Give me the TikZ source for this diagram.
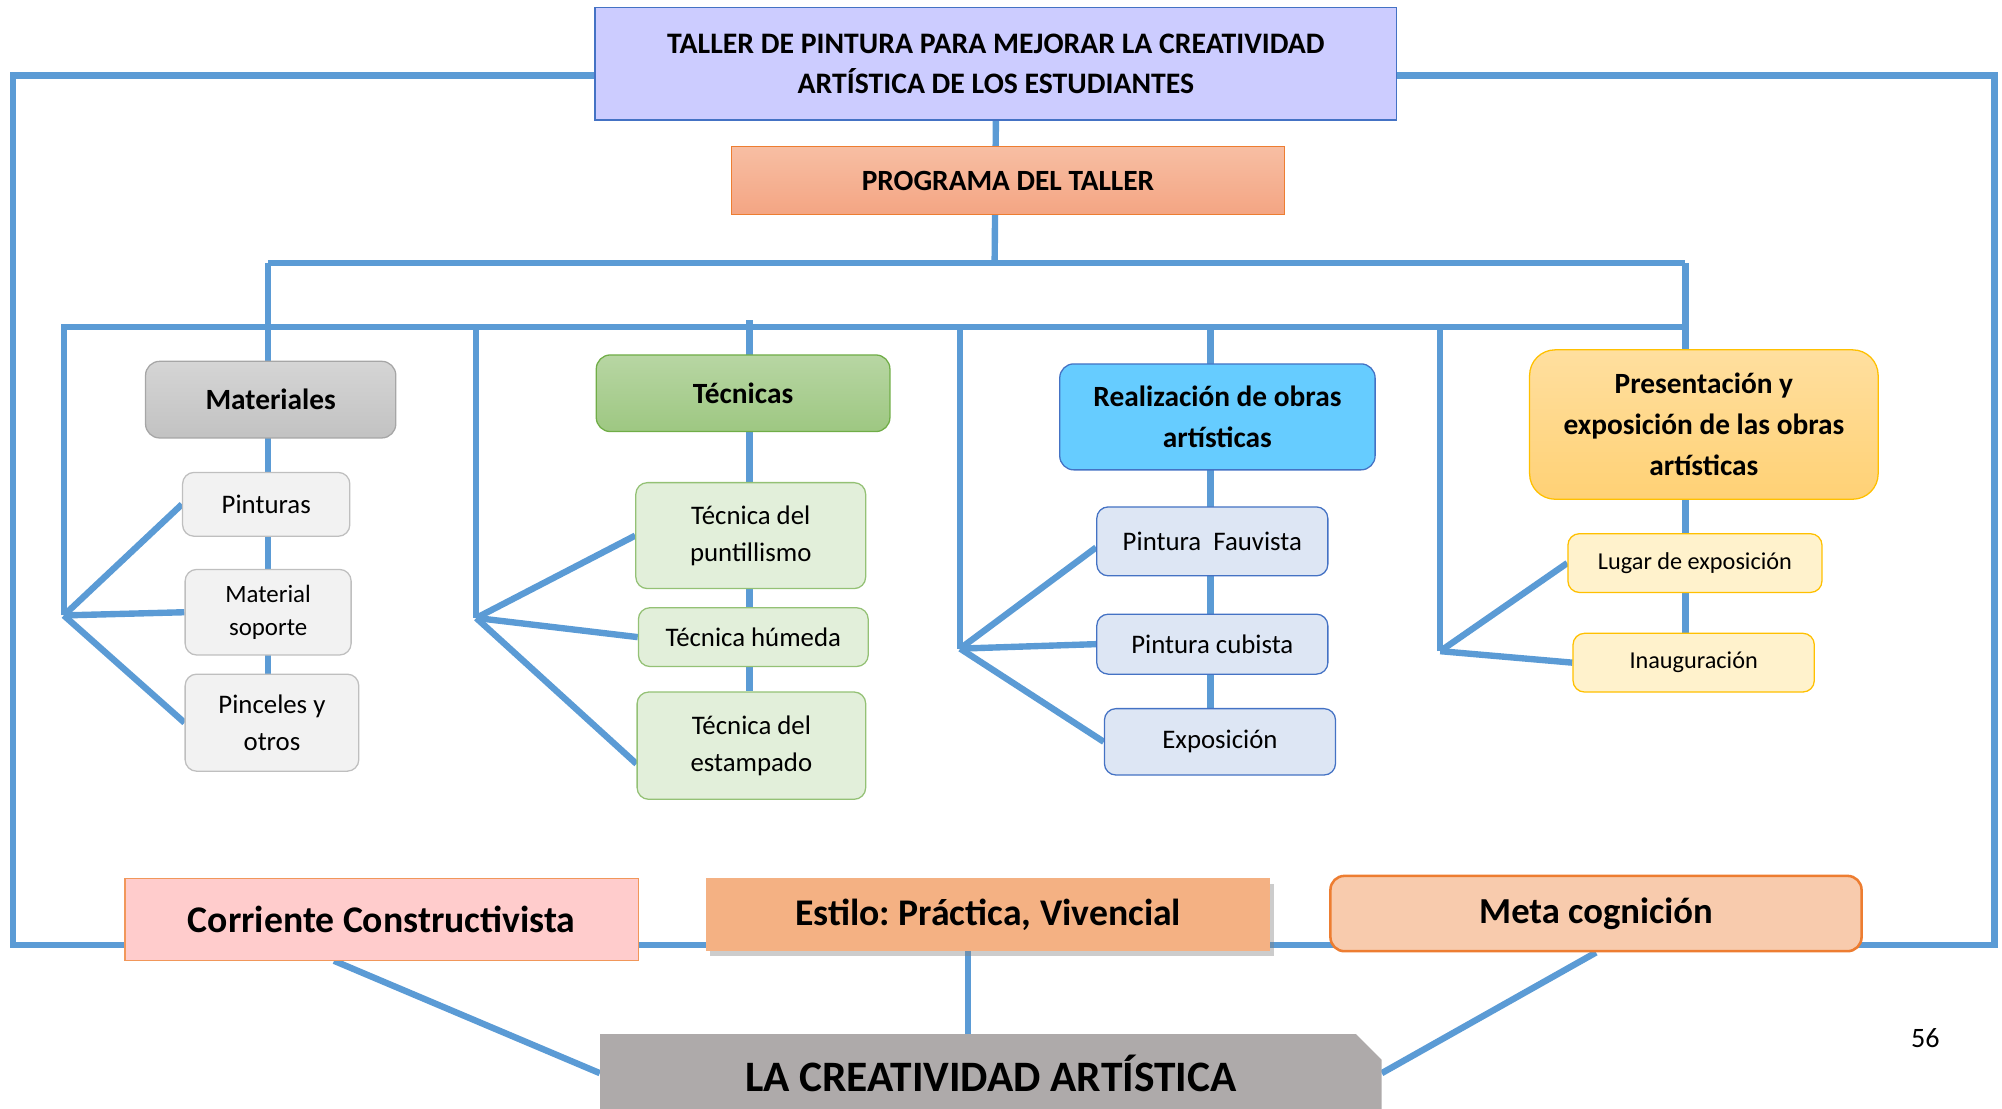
\documentclass[tikz,border=0pt]{standalone}
\usepackage{fontspec}
\setmainfont{Carlito}
\usetikzlibrary{backgrounds,shadows,shapes.misc}
\definecolor{linea}{HTML}{5B9BD5}
\definecolor{azulborde}{HTML}{4472C4}
\definecolor{lavanda}{HTML}{CCCCFF}
\definecolor{naranja}{HTML}{ED7D31}
\definecolor{verde}{HTML}{70AD47}
\definecolor{dorado}{HTML}{FFC000}
\definecolor{celeste}{HTML}{66CCFF}
\definecolor{salmonA}{HTML}{F7BEA3}
\definecolor{salmonB}{HTML}{F4A583}
\definecolor{amarilloA}{HTML}{FFDF9F}
\definecolor{amarilloB}{HTML}{FFD175}
\definecolor{grisbase}{HTML}{AEAAAA}
\frenchspacing
\begin{document}
\begin{tikzpicture}[x=1pt,y=-1pt]
					\tikzstyle{conn}=[draw=linea,line width=5pt]
					\tikzstyle{cat}=[rounded corners=11pt,align=center,inner sep=2pt,line width=1pt,font=\fontsize{23}{32}\selectfont\bfseries]
					\tikzstyle{item}=[rounded corners=9pt,align=center,inner sep=2pt,line width=1pt,font=\fontsize{21}{29}\selectfont]
					\tikzstyle{base}=[align=center,inner sep=2pt,font=\fontsize{29.5}{34}\selectfont\bfseries]
					\useasboundingbox (0,0) rectangle (1568,868);
					\node[draw=azulborde,fill=lavanda,line width=1pt,align=center,minimum width=628pt,minimum height=88pt,font=\fontsize{23.3}{32}\selectfont\bfseries] (1) at (780,50) {TALLER DE PINTURA PARA MEJORAR LA CREATIVIDAD\\ARTÍSTICA DE LOS ESTUDIANTES};
					\node[draw=naranja,top color=salmonA,bottom color=salmonB,line width=1pt,minimum width=433pt,minimum height=53pt,font=\fontsize{23}{28}\selectfont\bfseries] (2) at (789.5,141.5) {PROGRAMA DEL TALLER};
					\node[cat,draw=gray!70,top color=gray!33,bottom color=gray!48,minimum width=196pt,minimum height=60pt] (3) at (212,313) {Materiales};
					\node[item,draw=gray!50,fill=gray!10,minimum width=131pt,minimum height=50pt] (4) at (208.5,395) {Pinturas};
					\node[item,draw=gray!50,fill=gray!10,minimum width=130pt,minimum height=67pt,font=\fontsize{19.5}{26}\selectfont] (5) at (210,479.5) {Material\\soporte};
					\node[item,draw=gray!50,fill=gray!10,minimum width=136pt,minimum height=76pt] (6) at (213,566) {Pinceles y\\otros};
					\node[cat,draw=verde,top color=verde!50!white,bottom color=verde!68!white,minimum width=230pt,minimum height=60pt] (7) at (582,308) {Técnicas};
					\node[item,draw=verde!75,fill=verde!20,minimum width=180pt,minimum height=83pt] (8) at (588,419.5) {Técnica del\\puntillismo};
					\node[item,draw=verde!75,fill=verde!20,minimum width=180pt,minimum height=46pt] (9) at (590,499) {Técnica húmeda};
					\node[item,draw=verde!75,fill=verde!20,minimum width=179pt,minimum height=84pt] (10) at (588.5,584) {Técnica del\\estampado};
					\node[cat,draw=azulborde,fill=celeste,minimum width=247pt,minimum height=83pt] (11) at (953.5,326.5) {Realización de obras\\artísticas};
					\node[item,draw=azulborde,fill=azulborde!18,minimum width=181pt,minimum height=54pt] (12) at (949.5,424) {Pintura~ Fauvista};
					\node[item,draw=azulborde,fill=azulborde!18,minimum width=181pt,minimum height=47pt] (13) at (949.5,504.5) {Pintura cubista};
					\node[item,draw=azulborde,fill=azulborde!18,minimum width=181pt,minimum height=52pt] (14) at (955.5,581) {Exposición};
					\node[cat,rounded corners=20pt,draw=dorado,top color=amarilloA,bottom color=amarilloB,minimum width=273pt,minimum height=117pt] (15) at (1334.5,332.5) {Presentación y\\exposición de las obras\\artísticas};
					\node[item,draw=dorado,fill=dorado!20,minimum width=199pt,minimum height=46pt,font=\fontsize{19}{24}\selectfont] (16) at (1327.5,441) {Lugar de exposición};
					\node[item,draw=dorado,fill=dorado!20,minimum width=189pt,minimum height=46pt,font=\fontsize{19}{24}\selectfont] (17) at (1326.5,519) {Inauguración};
					\node[base,draw=naranja!80,fill=red!20,line width=1pt,minimum width=402pt,minimum height=64pt] (18) at (299,720) {Corriente Constructivista};
					\node[base,fill=naranja!60,minimum width=442pt,minimum height=57pt,drop shadow={shadow xshift=3pt,shadow yshift=-4pt,opacity=0.4}] (19) at (774,716.5) {Estilo: Práctica, Vivencial};
					\node[base,rounded corners=11pt,draw=naranja,fill=naranja!40,line width=2pt,minimum width=416pt,minimum height=59pt,font=\fontsize{28.7}{34}\selectfont\bfseries] (20) at (1250,715.5) {Meta cognición};
					\node[base,chamfered rectangle,chamfered rectangle corners={north east},chamfered rectangle xsep=10pt,chamfered rectangle ysep=10pt,fill=grisbase,minimum width=612pt,minimum height=61pt,font=\fontsize{34}{40}\selectfont\bfseries] (21) at (776,840.5) {LA CREATIVIDAD ARTÍSTICA};
					\node (22) at (1508,813) {\fontsize{22}{26}\selectfont 56};
					\coordinate (tl) at (10,59);
					\coordinate (tr) at (1562,59);
					\coordinate (bl) at (10,740);
					\coordinate (br) at (1562,740);
					\coordinate (h1) at (779,206);
					\coordinate (h1l) at (210,206);
					\coordinate (h1r) at (1320,206);
					\coordinate (h2l) at (50,256);
					\coordinate (h2r) at (1320,256);
					\coordinate (v2) at (587,251);
					\coordinate (v3) at (948,256);
					\coordinate (f1) at (50,482);
					\coordinate (f2) at (373,484);
					\coordinate (f3) at (752,508);
					\coordinate (f4) at (1128,510);
					\begin{scope}[on background layer]
					\draw[conn] (1.west |- tl) -- (tl) -- (bl) -- (br) -- (tr) -- (1.east |- tr);
					\draw[conn] (1.south) -- (h1);
					\draw[conn] (h1l) -- (h1r);
					\draw[conn] (h1l) -- (h1l |- 6.north);
					\draw[conn] (h1r) -- (h1r |- 17.north);
					\draw[conn] (f1) -- (h2l) -- (h2r);
					\draw[conn] (f2) -- (f2 |- h2l);
					\draw[conn] (f3) -- (f3 |- h2l);
					\draw[conn] (f4) -- (f4 |- h2l);
					\draw[conn] (v2) -- (v2 |- 10.north);
					\draw[conn] (v3) -- (v3 |- 14.north);
					\draw[conn] (f1) -- (4.west);
					\draw[conn] (f1) -- (5.west);
					\draw[conn] (f1) -- (6.west);
					\draw[conn] (f2) -- (8.west);
					\draw[conn] (f2) -- (9.west);
					\draw[conn] (f2) -- (10.189);
					\draw[conn] (f3) -- (12.183);
					\draw[conn] (f3) -- (13.west);
					\draw[conn] (f3) -- (14.west);
					\draw[conn] (f4) -- (16.west);
					\draw[conn] (f4) -- (17.west);
					\draw[conn] (18.221) -- (21.west);
					\draw[conn] (19.241) -- (19.241 |- 21.north);
					\draw[conn] (20.south) -- (21.east);
					\end{scope}
					\end{tikzpicture}
\end{document}
